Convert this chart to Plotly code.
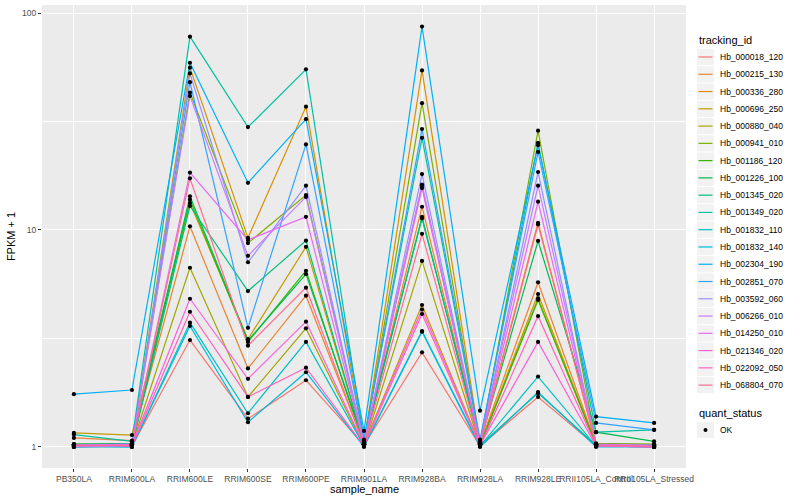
import plotly.graph_objects as go

samples = ["PB350LA", "RRIM600LA", "RRIM600LE", "RRIM600SE", "RRIM600PE", "RRIM901LA",
           "RRIM928BA", "RRIM928LA", "RRIM928LE", "RRII105LA_Control", "RRII105LA_Stressed"]

tracking_ids = ["Hb_000018_120", "Hb_000215_130", "Hb_000336_280", "Hb_000696_250", "Hb_000880_040",
                "Hb_000941_010", "Hb_001186_120", "Hb_001226_100", "Hb_001345_020", "Hb_001349_020",
                "Hb_001832_110", "Hb_001832_140", "Hb_002304_190", "Hb_002851_070", "Hb_003592_060",
                "Hb_006266_010", "Hb_014250_010", "Hb_021346_020", "Hb_022092_050", "Hb_068804_070"]

colors = ["#F8766D", "#EA8331", "#D89000", "#C09B00", "#A3A500", "#7CAE00", "#39B600", "#00BB4E",
          "#00BF7D", "#00C1A3", "#00BFC4", "#00BAE0", "#00B0F6", "#35A2FF", "#9590FF", "#C77CFF",
          "#E76BF3", "#FA62DB", "#FF62BC", "#FF6C91"]

quant_status = ["OK"]

s01 = [1.02, 1.01, 3.11, 1.35, 2.03, 1.02, 2.73, 1.01, 1.70, 1.01, 1.00]
s02 = [1.10, 1.07, 10.4, 2.30, 4.98, 1.03, 12.8, 1.03, 5.74, 1.03, 1.02]
s03 = [1.03, 1.02, 56.0, 9.2, 37.0, 1.05, 54.4, 1.04, 10.8, 1.02, 1.01]
s04 = [1.16, 1.135, 13.3, 3.14, 8.36, 1.03, 4.51, 1.02, 5.07, 1.02, 1.01]
s05 = [1.01, 1.02, 6.7, 1.70, 3.52, 1.01, 7.2, 1.01, 4.84, 1.01, 1.01]
s06 = [1.02, 1.03, 43.0, 8.7, 14.5, 1.04, 38.4, 1.03, 28.7, 1.04, 1.03]
s07 = [1.01, 1.01, 13.8, 3.05, 6.49, 1.02, 16.0, 1.02, 4.76, 1.03, 1.02]
s08 = [1.03, 1.04, 14.3, 3.09, 6.26, 1.06, 11.3, 1.05, 8.9, 1.17, 1.06]
s09 = [1.00, 1.01, 12.9, 5.23, 8.93, 1.03, 11.5, 1.02, 1.77, 1.02, 1.02]
s10 = [1.14, 1.06, 77.8, 29.8, 55.0, 1.08, 26.6, 1.06, 25.2, 1.17, 1.20]
s11 = [1.00, 1.00, 3.74, 1.43, 3.05, 1.01, 3.42, 1.01, 2.11, 1.01, 1.00]
s12 = [1.01, 1.00, 3.61, 1.30, 2.21, 1.00, 3.40, 1.00, 1.79, 1.00, 1.00]
s13 = [1.75, 1.83, 59.0, 16.5, 32.4, 1.185, 86.6, 1.47, 24.6, 1.38, 1.29]
s14 = [1.02, 1.03, 48.0, 3.54, 24.8, 1.07, 29.2, 1.08, 22.9, 1.29, 1.20]
s15 = [1.00, 1.01, 52.7, 7.1, 16.0, 1.03, 18.1, 1.03, 18.5, 1.02, 1.01]
s16 = [1.01, 1.02, 41.5, 7.6, 14.2, 1.04, 16.2, 1.04, 16.0, 1.03, 1.02]
s17 = [1.02, 1.03, 18.4, 9.0, 11.5, 1.03, 15.6, 1.03, 13.5, 1.02, 1.01]
s18 = [1.01, 1.02, 4.82, 2.06, 3.78, 1.02, 4.3, 1.02, 3.05, 1.01, 1.00]
s19 = [1.02, 1.01, 4.2, 1.70, 2.32, 1.01, 4.1, 1.01, 4.01, 1.01, 1.00]
s20 = [1.01, 1.02, 17.3, 2.93, 5.42, 1.02, 9.6, 1.02, 10.6, 1.02, 1.01]

series = [s01, s02, s03, s04, s05, s06, s07, s08, s09, s10,
          s11, s12, s13, s14, s15, s16, s17, s18, s19, s20]

y_ticks = [1, 10, 100]
y_minor = [3.1623, 31.623]

FONT = "Liberation Sans, Arial, sans-serif"
W, H = 800, 500
ML, MR, MT, MB = 42, 114, 5, 32
PW, PH = W - ML - MR, H - MT - MB


def px(xp):
    return (xp - ML) / PW


def py(yp):
    return (H - MB - yp) / PH


fig = go.Figure()
for name, col, vals in zip(tracking_ids, colors, series):
    fig.add_trace(go.Scatter(
        x=samples, y=vals, mode="lines", name=name,
        line=dict(color=col, width=1.2), showlegend=False,
    ))

all_x, all_y = [], []
for vals in series:
    all_x.extend(samples)
    all_y.extend(vals)
fig.add_trace(go.Scatter(
    x=all_x, y=all_y, mode="markers", name=quant_status[0],
    marker=dict(color="black", size=4.2, symbol="circle"), showlegend=False,
))

# manual ggplot-style legend
shapes, annots = [], []
key_x0, key_x1, text_x = 697, 714, 718
first_y, step = 57, 17.27
annots.append(dict(text="tracking_id", x=px(key_x0), y=py(40), xref="paper", yref="paper",
                   xanchor="left", yanchor="middle", showarrow=False,
                   font=dict(size=11, color="black", family=FONT)))
for i, (name, col) in enumerate(zip(tracking_ids, colors)):
    cy = first_y + i * step
    shapes.append(dict(type="rect", xref="paper", yref="paper",
                       x0=px(key_x0), x1=px(key_x1), y0=py(cy - step / 2 + 0.5), y1=py(cy + step / 2 - 0.5),
                       fillcolor="#F2F2F2", line=dict(width=0), layer="below"))
    shapes.append(dict(type="line", xref="paper", yref="paper",
                       x0=px(key_x0 + 1.5), x1=px(key_x1 - 1.5), y0=py(cy), y1=py(cy),
                       line=dict(color=col, width=1.2)))
    annots.append(dict(text=name, x=px(text_x), y=py(cy), xref="paper", yref="paper",
                       xanchor="left", yanchor="middle", showarrow=False,
                       font=dict(size=8.5, color="black", family=FONT)))

annots.append(dict(text="quant_status", x=px(key_x0), y=py(413), xref="paper", yref="paper",
                   xanchor="left", yanchor="middle", showarrow=False,
                   font=dict(size=11, color="black", family=FONT)))
ok_y = 430
shapes.append(dict(type="rect", xref="paper", yref="paper",
                   x0=px(key_x0), x1=px(key_x1), y0=py(ok_y - 8.1), y1=py(ok_y + 8.1),
                   fillcolor="#F2F2F2", line=dict(width=0), layer="below"))
shapes.append(dict(type="circle", xref="paper", yref="paper",
                   x0=px(703.5), x1=px(707.5), y0=py(ok_y - 2), y1=py(ok_y + 2),
                   fillcolor="black", line=dict(width=0)))
annots.append(dict(text=quant_status[0], x=px(text_x), y=py(ok_y), xref="paper", yref="paper",
                   xanchor="left", yanchor="middle", showarrow=False,
                   font=dict(size=8.5, color="black", family=FONT)))

annots.append(dict(text="sample_name", x=0.5, y=py(489), xref="paper", yref="paper",
                   xanchor="center", yanchor="middle", showarrow=False,
                   font=dict(size=11, color="black", family=FONT)))

fig.update_layout(
    width=W, height=H,
    paper_bgcolor="white", plot_bgcolor="#EBEBEB",
    margin=dict(l=ML, r=MR, t=MT, b=MB),
    font=dict(family=FONT, size=9, color="#4D4D4D"),
    showlegend=False,
    shapes=shapes, annotations=annots,
    xaxis=dict(
        showgrid=True, gridcolor="white", gridwidth=1.1,
        ticks="outside", ticklen=3, tickcolor="#333333",
        tickfont=dict(size=8.5, color="#4D4D4D"), tickangle=0,
        showline=False, zeroline=False,
        range=[-0.55, 10.55], automargin=False,
    ),
    yaxis=dict(
        title=dict(text="FPKM + 1", font=dict(size=11, color="black"), standoff=4),
        type="log", range=[-0.097, 2.037],
        tickvals=y_ticks, ticktext=[str(v) for v in y_ticks],
        showgrid=True, gridcolor="white", gridwidth=1.1,
        ticks="outside", ticklen=3, tickcolor="#333333",
        tickfont=dict(size=8.5, color="#4D4D4D"),
        minor=dict(tickvals=y_minor, showgrid=True, gridcolor="white", gridwidth=0.5, ticks=""),
        zeroline=False, showline=False, automargin=False,
    ),
)

fig.write_html(
    "out.html",
    config={"displayModeBar": False},
    post_script="document.body.style.margin='0';document.body.style.overflow='hidden';",
)
